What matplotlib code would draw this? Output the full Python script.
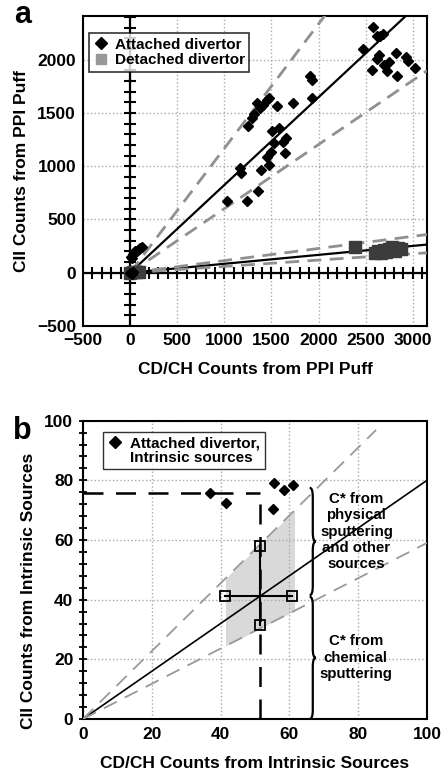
import numpy as np
import matplotlib.pyplot as plt
from matplotlib.path import Path
from matplotlib.patches import PathPatch
from matplotlib.lines import Line2D

plt.rcParams['font.family'] = ['Liberation Sans Narrow', 'Liberation Sans', 'DejaVu Sans']
plt.rcParams['font.weight'] = 'bold'
plt.rcParams['axes.labelweight'] = 'bold'

# ---- panel a data ----
att_x = [5, 20, 35, 50, 70, 90, 110, 130, 0, 15, 30,
         1028, 1239, 1169, 1176, 1246, 1292, 1310, 1345, 1380, 1415, 1451, 1472, 1556,
         1732, 1352, 1387, 1451, 1479, 1493, 1504, 1532, 1585, 1620, 1655, 1644,
         1908, 1933, 1926, 2472, 2577, 2623, 2648, 2683, 2623, 2641, 2570, 2690,
         2746, 2729, 2824, 2831, 2930, 2947, 3025]
att_y = [150, 140, 180, 200, 200, 220, 230, 240, 0, -10, 5,
         673, 673, 988, 941, 1377, 1455, 1486, 1589, 1548, 1579, 1626, 1642, 1570,
         1589, 769, 966, 1090, 1012, 1134, 1330, 1215, 1355, 1227, 1268, 1121,
         1844, 1813, 1642, 2103, 2305, 2224, 2218, 2240, 2006, 2047, 1907, 1953,
         1975, 1891, 2062, 1850, 2025, 1984, 1922]

det_x = [0, 30, 60, 90, 2391, 2600, 2630, 2660, 2690, 2720, 2750, 2780, 2810, 2840, 2870]
det_y = [0, 5, 8, 10, 240, 190, 200, 185, 210, 195, 220, 240, 200, 230, 225]

# fit slopes: attached (fit, upper, lower), detached (fit, upper, lower)
att_slopes = [0.824, 1.168, 0.602]
det_slopes = [0.084, 0.114, 0.0595]

# ---- panel b data ----
int_x = [36.8, 41.5, 55.4, 58.3, 61.0, 55.1]
int_y = [75.7, 72.3, 79.2, 76.8, 78.5, 70.3]
b_slopes = [0.8, 1.137, 0.59]
cross_cx, cross_cy = 51.4, 41.1
cross_xlo, cross_xhi = 41.4, 60.9
cross_ylo, cross_yhi = 31.4, 58.1
band_x = [41.4, 61.5]
mean_y = 75.9

fig = plt.figure(figsize=(4.41, 7.82), dpi=100)


def bold_ticks(axis, size):
    for lab in axis.get_xticklabels() + axis.get_yticklabels():
        lab.set_fontweight('bold')
        lab.set_fontsize(size)
        lab.set_family(['Liberation Sans', 'DejaVu Sans'])


# =================== panel a ===================
ax = fig.add_axes([0.1882, 0.5831, 0.780, 0.3964])
ax.set_xlim(-500, 3150)
ax.set_ylim(-500, 2410)
ax.set_xticks(np.arange(-500, 3001, 500))
ax.set_yticks(np.arange(-500, 2001, 500))
ax.set_xticklabels(['\u2212500'] + [str(v) for v in range(0, 3001, 500)])
ax.set_yticklabels(['\u2212500'] + [str(v) for v in range(0, 2001, 500)])
ax.tick_params(length=0, pad=5)
bold_ticks(ax, 12.5)
ax.grid(True, ls=':', color='#aaaaaa', lw=1)
for s in ax.spines.values():
    s.set_linewidth(1.5)

# axes through the origin with cross ticks
ax.axhline(0, color='k', lw=1.6, zorder=2)
ax.axvline(0, color='k', lw=1.6, zorder=2)
tx = np.arange(-400, 3101, 100)
ax.plot(tx, np.zeros_like(tx), ls='none', marker='|', ms=8, mew=1.5, color='k', zorder=2)
ty = np.arange(-400, 2401, 100)
ax.plot(np.zeros_like(ty), ty, ls='none', marker='_', ms=8, mew=1.5, color='k', zorder=2)

xx = np.array([0, 3150])
for slopes in (att_slopes, det_slopes):
    ax.plot(xx, slopes[0] * xx, color='k', lw=1.6, zorder=3)
    for s in slopes[1:]:
        ax.plot(xx, s * xx, color='#909090', lw=2, dashes=(5, 3), zorder=3)

ax.plot(det_x, det_y, ls='none', marker='s', ms=8, color='#3c3c3c', zorder=4)
ax.plot(att_x, att_y, ls='none', marker='D', ms=5.5, color='k', zorder=5)

h1 = Line2D([], [], ls='none', marker='D', ms=6, color='k')
h2 = Line2D([], [], ls='none', marker='s', ms=7, color='#999999')
leg = ax.legend([h1, h2], ['Attached divertor', 'Detached divertor'], loc='upper left',
                bbox_to_anchor=(0.017, 0.945), fontsize=11, frameon=True, fancybox=False,
                handlelength=1.0, handletextpad=0.4, borderpad=0.3, labelspacing=0.1,
                borderaxespad=0)
leg.get_frame().set_edgecolor('k')
leg.get_frame().set_linewidth(1.2)

ax.set_xlabel('CD/CH Counts from PPI Puff', fontsize=12.5, labelpad=10)
ax.set_ylabel('CII Counts from PPI Puff', fontsize=12.5, labelpad=6)
fig.text(0.033, 0.981, 'a', fontsize=22, fontweight='bold', va='center',
         family=['Liberation Sans', 'DejaVu Sans'])

# =================== panel b ===================
bx = fig.add_axes([0.1882, 0.0806, 0.780, 0.3815])
bx.set_xlim(0, 100)
bx.set_ylim(0, 100)
bx.set_xticks(np.arange(0, 101, 20))
bx.set_yticks(np.arange(0, 101, 20))
bx.set_yticks(np.arange(0, 101, 4), minor=True)
bx.tick_params(axis='x', length=0, pad=6)
bx.tick_params(axis='y', which='both', direction='inout', length=6, width=1.3, pad=4)
bold_ticks(bx, 12.5)
bx.grid(True, ls=':', color='#aaaaaa', lw=1)
for s in bx.spines.values():
    s.set_linewidth(1.5)

xb = np.array([0, 100])
bx.plot(xb, b_slopes[0] * xb, color='k', lw=1.2, zorder=3)
xu = np.array([0, 85.2])
bx.plot(xu, b_slopes[1] * xu, color='#999999', lw=1.3, dashes=(8, 5), zorder=3)
bx.plot(xb, b_slopes[2] * xb, color='#999999', lw=1.3, dashes=(8, 5), zorder=3)

bxs = np.array(band_x)
bx.fill_between(bxs, b_slopes[2] * bxs, b_slopes[1] * bxs, color='#d9d9d9', lw=0, zorder=1)

# mean lines
bx.plot([0, cross_cx], [mean_y, mean_y], color='k', lw=1.8, dashes=(8, 5), zorder=3)
bx.plot([cross_cx, cross_cx], [0, mean_y], color='k', lw=1.8, dashes=(8, 5), zorder=3)

# error cross
bx.plot([cross_xlo, cross_xhi], [cross_cy, cross_cy], color='k', lw=1.5, zorder=4)
bx.plot([cross_cx, cross_cx], [cross_ylo, cross_yhi], color='k', lw=1.5, zorder=4)
bx.plot([cross_xlo, cross_xhi, cross_cx, cross_cx], [cross_cy, cross_cy, cross_ylo, cross_yhi],
        ls='none', marker='s', ms=7.5, mfc='none', mec='k', mew=1.3, zorder=5)

bx.plot(int_x, int_y, ls='none', marker='D', ms=5.5, color='k', zorder=5)


def brace(axis, x, y0, y1, w=0.9, d=3.0):
    ym = (y0 + y1) / 2
    verts = [(x - w, y0), (x, y0), (x, y0 + d),
             (x, ym - d), (x, ym), (x + w, ym),
             (x, ym), (x, ym + d),
             (x, y1 - d), (x, y1), (x - w, y1)]
    codes = [Path.MOVETO, Path.CURVE3, Path.CURVE3,
             Path.LINETO, Path.CURVE3, Path.CURVE3,
             Path.CURVE3, Path.CURVE3,
             Path.LINETO, Path.CURVE3, Path.CURVE3]
    axis.add_patch(PathPatch(Path(verts, codes), fc='none', ec='k', lw=1.6, zorder=4))


brace(bx, 66.8, 0, 41.0)
brace(bx, 66.8, 41.5, 77.5)
bx.text(79.5, 62.8, 'C* from\nphysical\nsputtering\nand other\nsources', ha='center', va='center',
        fontsize=10.8, linespacing=1.22, zorder=6)
bx.text(79.3, 20.5, 'C* from\nchemical\nsputtering', ha='center', va='center',
        fontsize=10.8, linespacing=1.22, zorder=6)

hb1 = Line2D([], [], ls='none', marker='D', ms=6, color='k')
hb2 = Line2D([], [], ls='none', marker=None)
legb = bx.legend([hb1, hb2], ['Attached divertor,', 'Intrinsic sources'], loc='upper left',
                 bbox_to_anchor=(0.058, 0.962), fontsize=11, frameon=True, fancybox=False,
                 handlelength=1.0, handletextpad=0.5, borderpad=0.3, labelspacing=0.0,
                 borderaxespad=0)
legb.get_frame().set_edgecolor('k')
legb.get_frame().set_linewidth(1.0)

bx.set_xlabel('CD/CH Counts from Intrinsic Sources', fontsize=12.5, labelpad=10)
bx.set_ylabel('CII Counts from Intrinsic Sources', fontsize=12.5, labelpad=6)
bx.yaxis.label.set_y(0.43)
fig.text(0.03, 0.449, 'b', fontsize=22, fontweight='bold', va='center',
         family=['Liberation Sans', 'DejaVu Sans'])

fig.savefig('out.png', dpi=100)
